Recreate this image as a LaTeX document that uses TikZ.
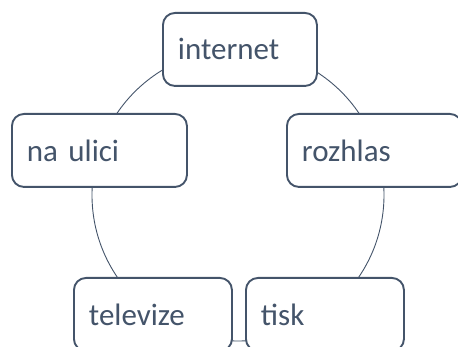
\documentclass[tikz,border=0pt]{standalone}
\usepackage{fontspec}
\setmainfont{Carlito}
\definecolor{slate}{HTML}{44546A}
\begin{document}
\begin{tikzpicture}[x=1pt,y=-1pt,
  ring/.style={circle, draw=slate, line width=0.9pt, minimum size=292pt, inner sep=0pt},
  box/.style={draw=slate, line width=1.9pt, fill=white, rounded corners=12pt,
    anchor=north west, minimum height=73pt, inner xsep=15pt, align=left,
    text=slate, font=\fontsize{31}{37}\selectfont}]
  \useasboundingbox (0,0) rectangle (458,347);
  \clip (0,0) rectangle (458,347);
  % cycle ring behind the boxes
  \node[ring] (cycle) at (238,195) {};
  % the five boxes
  \node[box, text width=124pt] (internet) at (162,12) {internet};
  \node[box, text width=145pt] (ulici) at (11,113) {na ulici};
  \node[box, text width=145pt] (rozhlas) at (286,113) {rozhlas};
  \node[box, text width=128pt] (televize) at (73,277) {televize};
  \node[box, text width=128pt] (tisk) at (245,277) {tisk};
\end{tikzpicture}
\end{document}
